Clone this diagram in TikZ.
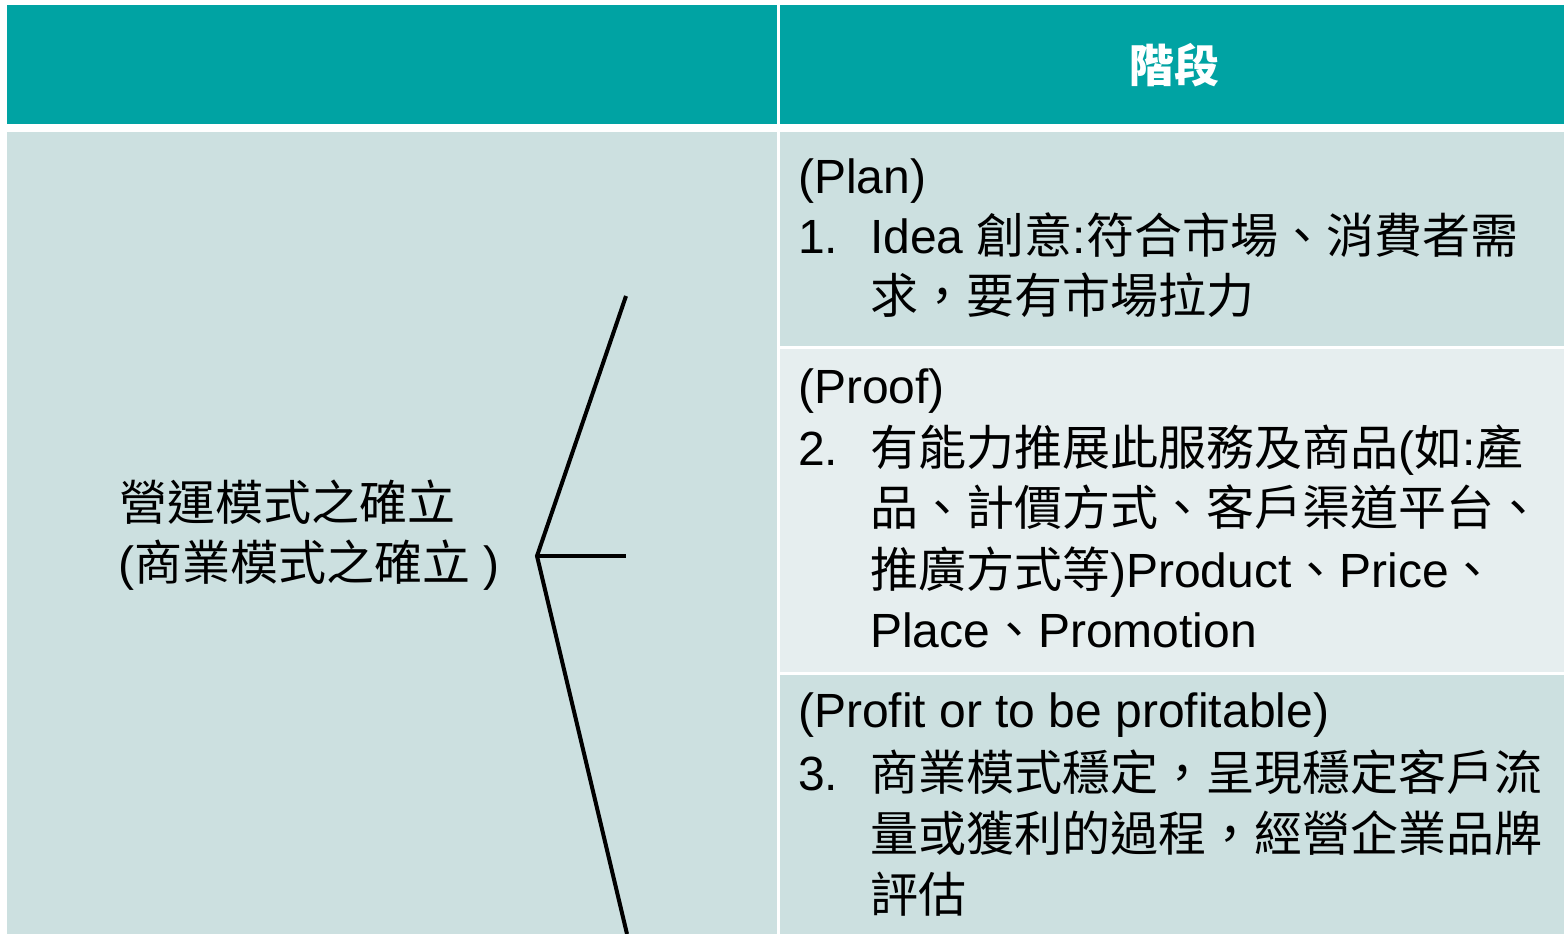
\documentclass[tikz,border=0pt]{standalone}
\usepackage{fontspec}
\setmainfont{Liberation Sans}
\newfontfamily\cjk{Noto Sans CJK TC}
\definecolor{headteal}{RGB}{0,163,163}
\definecolor{bodyteal}{RGB}{204,224,224}
\definecolor{rowlight}{RGB}{230,238,239}
\begin{document}
\begin{tikzpicture}[x=1pt,y=-1pt,
  txt/.style={anchor=base west, inner sep=0pt, text=black, font=\fontsize{48}{58}\selectfont},
  headtxt/.style={anchor=center, inner sep=0pt, text=white, font=\fontsize{45}{54}\selectfont\cjk\bfseries},
  bracket/.style={draw=black, line width=4pt, line join=miter}]
\useasboundingbox (0,0) rectangle (1564,934);
\fill[white] (0,0) rectangle (1564,934);
% header
\fill[headteal] (7,5) rectangle (777,124);
\fill[headteal] (780,5) rectangle (1564,124);
% body
\fill[bodyteal] (7,132) rectangle (777,934);
\fill[bodyteal] (780,132) rectangle (1564,346);
\fill[rowlight] (780,349) rectangle (1564,672);
\fill[bodyteal] (780,675) rectangle (1564,934);

\node[headtxt] (head) at (1174,65) {階段};

% left text
\node[txt] (l1) at (119,520) {\cjk 營運模式之確立};
\node[txt] (l2) at (118,580) {({\cjk 商業模式之確立} )};

% bracket
\coordinate (apex) at (537,556);
\coordinate (btop) at (626,296);
\coordinate (bmid) at (626,556);
\coordinate (bbot) at (627,934);
\draw[bracket] (btop) -- (apex) -- (bbot);
\draw[bracket] (apex) -- (bmid);

% row 1
\node[txt] (p0) at (798,193) {(Plan)};
\node[txt] (p1n) at (798,253) {1.};
\node[txt] (p1) at (870,253) {Idea {\cjk 創意}:{\cjk 符合市場、消費者需}};
\node[txt] (p2) at (870,313) {\cjk 求，要有市場拉力};

% row 2
\node[txt] (q0) at (798,403) {(Proof)};
\node[txt] (q1n) at (798,465) {2.};
\node[txt] (q1) at (870,465) {{\cjk 有能力推展此服務及商品}({\cjk 如}:{\cjk 產}};
\node[txt] (q2) at (870,525) {\cjk 品、計價方式、客戶渠道平台、};
\node[txt] (q3) at (870,587) {{\cjk 推廣方式等})Product{\cjk 、}Price{\cjk 、}};
\node[txt] (q4) at (870,647) {Place{\cjk 、}Promotion};

% row 3
\node[txt] (r0) at (798,727) {(Profit or to be profitable)};
\node[txt] (r1n) at (798,790) {3.};
\node[txt] (r1) at (870,790) {\cjk 商業模式穩定，呈現穩定客戶流};
\node[txt] (r2) at (870,851) {\cjk 量或獲利的過程，經營企業品牌};
\node[txt] (r3) at (870,912) {\cjk 評估};
\end{tikzpicture}
\end{document}
